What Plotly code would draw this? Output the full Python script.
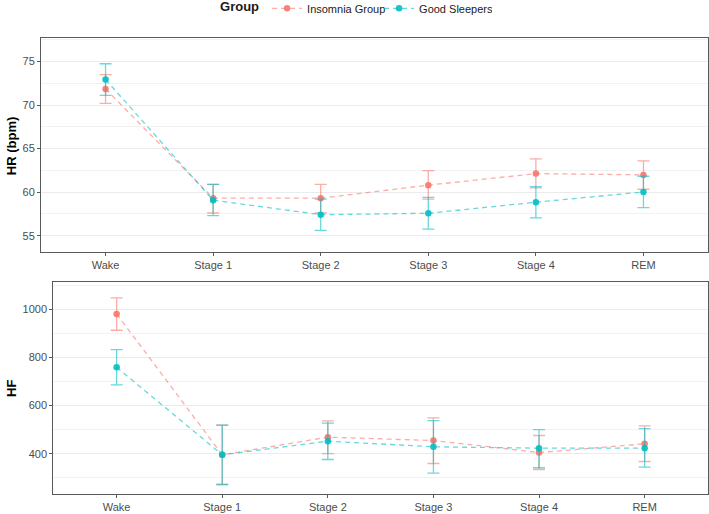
import plotly.graph_objects as go

stages = ["Wake", "Stage 1", "Stage 2", "Stage 3", "Stage 4", "REM"]

# HR (bpm)
hr_ins = [71.85, 59.3, 59.3, 60.8, 62.13, 61.98]
hr_ins_hi = [73.5, 60.9, 60.9, 62.47, 63.82, 63.6]
hr_ins_lo = [70.2, 57.6, 57.6, 59.2, 60.48, 60.33]
hr_good = [72.93, 59.07, 57.41, 57.57, 58.84, 60.02]
hr_good_hi = [74.74, 60.9, 59.2, 59.4, 60.64, 61.82]
hr_good_lo = [71.1, 57.3, 55.6, 55.76, 57.04, 58.22]

# HF
hf_ins = [980.5, 395.7, 469.0, 455.0, 405.3, 441.3]
hf_ins_hi = [1046.9, 518.9, 536.7, 549.0, 475.8, 516.0]
hf_ins_lo = [912.9, 272.5, 401.0, 359.7, 334.7, 368.0]
hf_good = [759.4, 395.7, 452.5, 428.9, 423.4, 423.4]
hf_good_hi = [832.4, 518.9, 527.3, 538.0, 500.6, 504.8]
hf_good_lo = [686.0, 272.5, 376.2, 320.0, 342.0, 344.7]

groups = ["Insomnia Group", "Good Sleepers"]
colors = {"Insomnia Group": (248, 118, 109), "Good Sleepers": (0, 191, 196)}

def rgba(c, a):
    return f"rgba({c[0]},{c[1]},{c[2]},{a})"

fig = go.Figure()

panels = [
    ("x", "y", {"Insomnia Group": (hr_ins, hr_ins_hi, hr_ins_lo),
                "Good Sleepers": (hr_good, hr_good_hi, hr_good_lo)}, True),
    ("x2", "y2", {"Insomnia Group": (hf_ins, hf_ins_hi, hf_ins_lo),
                  "Good Sleepers": (hf_good, hf_good_hi, hf_good_lo)}, False),
]

for xa, ya, data, show in panels:
    for g in groups:
        m, hi, lo = data[g]
        c = colors[g]
        fig.add_trace(go.Scatter(
            x=stages, y=m, xaxis=xa, yaxis=ya, name=g, legendgroup=g,
            showlegend=show, mode="lines+markers",
            line=dict(color=rgba(c, 0.6), width=1.3, dash="5px,4px"),
            marker=dict(color=rgba(c, 0.9), size=6.5),
            error_y=dict(type="data", symmetric=False,
                         array=[h - v for h, v in zip(hi, m)],
                         arrayminus=[v - l for v, l in zip(m, lo)],
                         color=rgba(c, 0.6), thickness=1.3, width=6),
        ))

axis_common = dict(
    showline=True, mirror=True, linecolor="#595959", linewidth=1,
    ticks="outside", ticklen=3, tickcolor="#595959", tickwidth=1,
    tickfont=dict(family="Liberation Sans, Arial", size=11, color="#4D4D4D"),
    zeroline=False, automargin=False,
)

fig.update_layout(
    width=709, height=514,
    margin=dict(l=41, r=1, t=38, b=20, autoexpand=False),
    paper_bgcolor="white", plot_bgcolor="white",
    font=dict(family="Liberation Sans, Arial", color="#333333"),
    xaxis=dict(domain=[0, 1], anchor="y", type="category",
               range=[-0.6, 5.6], showgrid=False, **axis_common),
    yaxis=dict(domain=[0.5314, 1], anchor="x", range=[53.16, 77.7],
               tickvals=[55, 60, 65, 70, 75], showgrid=True, gridcolor="#EBEBEB",
               minor=dict(tick0=52.5, dtick=5, showgrid=True, gridcolor="#F2F2F2"),
               **axis_common),
    xaxis2=dict(domain=[0.0184, 1], anchor="y2", type="category",
                range=[-0.6, 5.6], showgrid=False, **axis_common),
    yaxis2=dict(domain=[0, 0.4643], anchor="x2", range=[233, 1112],
                tickvals=[400, 600, 800, 1000], showgrid=True, gridcolor="#EBEBEB",
                minor=dict(tick0=300, dtick=200, showgrid=True, gridcolor="#F2F2F2"),
                **axis_common),
    legend=dict(orientation="h", x=0.2654, xanchor="left", y=1.065,
                yanchor="middle", entrywidth=67, entrywidthmode="pixels",
                title=dict(text="<b>Group</b>", side="left",
                           font=dict(family="Liberation Sans, Arial", size=13, color="#1A1A1A")),
                font=dict(family="Liberation Sans, Arial", size=11, color="#1A1A1A"),
                itemwidth=30),
    annotations=[
        dict(text="<b>HR (bpm)</b>", xref="paper", yref="paper",
             x=-0.045, y=0.765, xanchor="center", yanchor="middle",
             textangle=-90, showarrow=False,
             font=dict(family="Liberation Sans, Arial", size=13, color="#000000")),
        dict(text="<b>HF</b>", xref="paper", yref="paper",
             x=-0.0435, y=0.2325, xanchor="center", yanchor="middle",
             textangle=-90, showarrow=False,
             font=dict(family="Liberation Sans, Arial", size=13, color="#000000")),
    ],
)

fig.write_html("out.html", config={"displayModeBar": False},
               post_script="document.body.style.margin='0';")
